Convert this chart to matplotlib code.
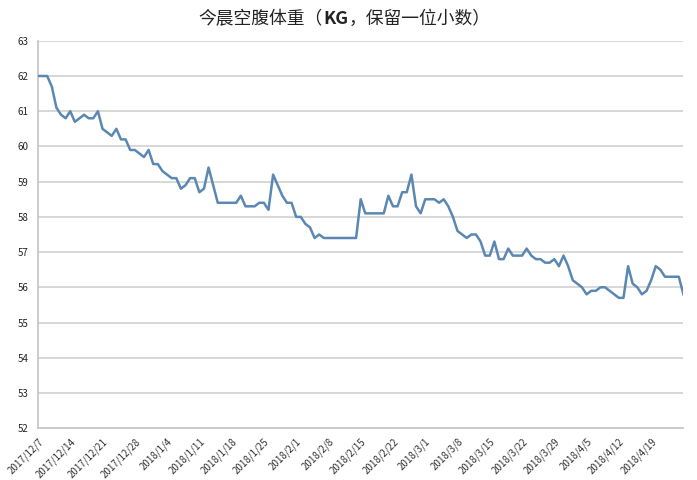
import matplotlib
matplotlib.use('Agg')
import matplotlib.pyplot as plt

plt.rcParams['font.family'] = ['Noto Sans CJK SC', 'DejaVu Sans']

# morning fasting weight, one reading per day from 2017/12/7
weights = [
    62.0, 62.0, 62.0, 61.7, 61.1, 60.9, 60.8, 61.0, 60.7, 60.8,
    60.9, 60.8, 60.8, 61.0, 60.5, 60.4, 60.3, 60.5, 60.2, 60.2,
    59.9, 59.9, 59.8, 59.7, 59.9, 59.5, 59.5, 59.3, 59.2, 59.1,
    59.1, 58.8, 58.9, 59.1, 59.1, 58.7, 58.8, 59.4, 58.9, 58.4,
    58.4, 58.4, 58.4, 58.4, 58.6, 58.3, 58.3, 58.3, 58.4, 58.4,
    58.2, 59.2, 58.9, 58.6, 58.4, 58.4, 58.0, 58.0, 57.8, 57.7,
    57.4, 57.5, 57.4, 57.4, 57.4, 57.4, 57.4, 57.4, 57.4, 57.4,
    58.5, 58.1, 58.1, 58.1, 58.1, 58.1, 58.6, 58.3, 58.3, 58.7,
    58.7, 59.2, 58.3, 58.1, 58.5, 58.5, 58.5, 58.4, 58.5, 58.3,
    58.0, 57.6, 57.5, 57.4, 57.5, 57.5, 57.3, 56.9, 56.9, 57.3,
    56.8, 56.8, 57.1, 56.9, 56.9, 56.9, 57.1, 56.9, 56.8, 56.8,
    56.7, 56.7, 56.8, 56.6, 56.9, 56.6, 56.2, 56.1, 56.0, 55.8,
    55.9, 55.9, 56.0, 56.0, 55.9, 55.8, 55.7, 55.7, 56.6, 56.1,
    56.0, 55.8, 55.9, 56.2, 56.6, 56.5, 56.3, 56.3, 56.3, 56.3,
    55.8,
]

week_labels = [
    '2017/12/7', '2017/12/14', '2017/12/21', '2017/12/28', '2018/1/4',
    '2018/1/11', '2018/1/18', '2018/1/25', '2018/2/1', '2018/2/8',
    '2018/2/15', '2018/2/22', '2018/3/1', '2018/3/8', '2018/3/15',
    '2018/3/22', '2018/3/29', '2018/4/5', '2018/4/12', '2018/4/19',
]

y_ticks = list(range(52, 64))

fig = plt.figure(figsize=(6.97, 4.8), dpi=100)
ax = fig.add_axes([0.0545, 0.108, 0.926, 0.807])

days = list(range(len(weights)))
ax.plot(days, weights, color='#5b87b3', linewidth=1.8, zorder=3)

ax.set_xlim(0, len(weights) - 1)
ax.set_ylim(52, 63)
ax.set_yticks(y_ticks)
ax.set_yticklabels([str(v) for v in y_ticks], fontsize=7, color='#222222')
ax.set_xticks([i * 7 for i in range(len(week_labels))])
ax.set_xticklabels(week_labels, fontsize=7, color='#333333', rotation=45,
                   ha='right', rotation_mode='anchor')
ax.tick_params(axis='both', length=0, pad=7)
ax.tick_params(axis='x', pad=6)

ax.grid(axis='y', color='#d4d4d4', linewidth=1.3)
ax.set_axisbelow(True)
for side in ('top', 'right'):
    ax.spines[side].set_visible(False)
for side in ('left', 'bottom'):
    ax.spines[side].set_color('#c8c8c8')
    ax.spines[side].set_linewidth(1.3)

# title, with the "KG" part in bold like the original
title_y = 0.96
parts = [('今晨空腹体重（', 'normal'), ('KG', 'bold'), ('，保留一位小数）', 'normal')]
fig.canvas.draw()
renderer = fig.canvas.get_renderer()
texts = []
for s, w in parts:
    t = fig.text(0, title_y, s, fontsize=12.8, fontweight=w, va='center', color='#222222')
    texts.append(t)
widths = [t.get_window_extent(renderer).width for t in texts]
x = (fig.bbox.width - sum(widths)) / 2 - 4
for t, w in zip(texts, widths):
    t.set_x(x / fig.bbox.width)
    x += w

fig.savefig('out.png', dpi=100)
